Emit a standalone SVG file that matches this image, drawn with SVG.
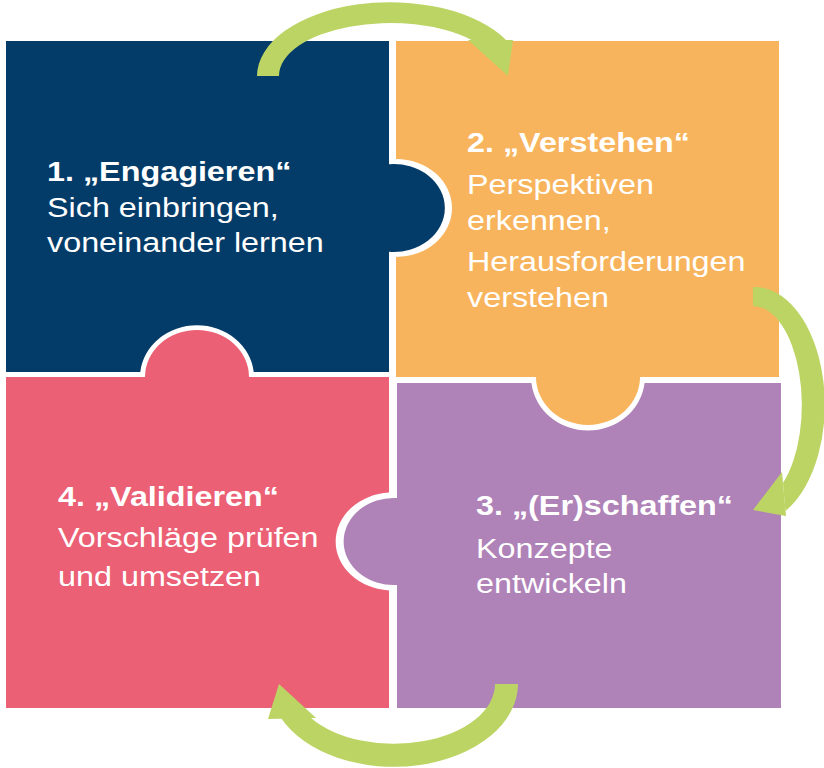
<svg xmlns="http://www.w3.org/2000/svg" width="824" height="768" viewBox="0 0 824 768">
<style>
.t{font-family:"Liberation Sans",Arial,sans-serif;font-size:28px;fill:#fff}
.b{font-weight:bold}
.arrow{fill:#bcd464}
</style>
<rect width="824" height="768" fill="#fff"/>
<g id="node-engagieren">
<path fill="#043c69" d="M6,41 L389,41 L389,164.2 A51 44 0 1 1 389,251.8 L389,372 L253.7,372 A57 52 0 0 0 140.3,372 L6,372 Z"/>
<text class="t b" transform="matrix(1.155 0 0 1 47 181)">1. „Engagieren“</text>
<text class="t" transform="matrix(1.155 0 0 1 47 216.5)">Sich einbringen,</text>
<text class="t" transform="matrix(1.155 0 0 1 47 252)">voneinander lernen</text>
</g>
<g id="node-verstehen">
<path fill="#f8b45c" d="M396,41 L779,41 L779,377 L640,377 A52 48 0 0 1 536,377 L396,377 L396,257 A56 49 0 0 0 396,159 Z"/>
<text class="t b" transform="matrix(1.155 0 0 1 467 152)">2. „Verstehen“</text>
<text class="t" transform="matrix(1.155 0 0 1 467 194)">Perspektiven</text>
<text class="t" transform="matrix(1.155 0 0 1 467 230)">erkennen,</text>
<text class="t" transform="matrix(1.155 0 0 1 467 271)">Herausforderungen</text>
<text class="t" transform="matrix(1.155 0 0 1 467 307)">verstehen</text>
</g>
<g id="node-erschaffen">
<path fill="#af82b8" d="M397,383 L531.4,383 A57 54 0 0 0 644.6,383 L781,383 L781,708 L397,708 L397,585 A50 43.6 0 1 1 397,498 Z"/>
<text class="t b" transform="matrix(1.155 0 0 1 476 515)">3. „(Er)schaffen“</text>
<text class="t" transform="matrix(1.155 0 0 1 476 558)">Konzepte</text>
<text class="t" transform="matrix(1.155 0 0 1 476 593)">entwickeln</text>
</g>
<g id="node-validieren">
<path fill="#eb6074" d="M6,377 L145,377 A52 47 0 0 1 249,377 L389,377 L389,492.6 A57 49 0 0 0 389,590.4 L389,708 L6,708 Z"/>
<text class="t b" transform="matrix(1.155 0 0 1 58 506)">4. „Validieren“</text>
<text class="t" transform="matrix(1.155 0 0 1 58 547)">Vorschläge prüfen</text>
<text class="t" transform="matrix(1.155 0 0 1 58 586)">und umsetzen</text>
</g>
<g id="connectors">
<g id="arrow-1-2" class="arrow">
<path d="M257,76 A133 74 0 0 1 506,40 L471.5,40 A111 53 0 0 0 279,76 Z"/>
<path d="M468,40 L513,40 L508,76 Z"/>
</g>
<g id="arrow-2-3" class="arrow">
<path d="M753,287 A70 118 0 0 1 785.5,511 L783,483 A49 99 0 0 0 753,306 Z"/>
<path d="M782,472 L786,516 L753,510 Z"/>
</g>
<g id="arrow-3-4" class="arrow">
<path d="M518,684 A124 83 0 0 1 281,718 L311,718 A101 60 0 0 0 495,684 Z"/>
<path d="M279,684 L268,719 L316,718 Z"/>
</g>
</g>
</svg>
